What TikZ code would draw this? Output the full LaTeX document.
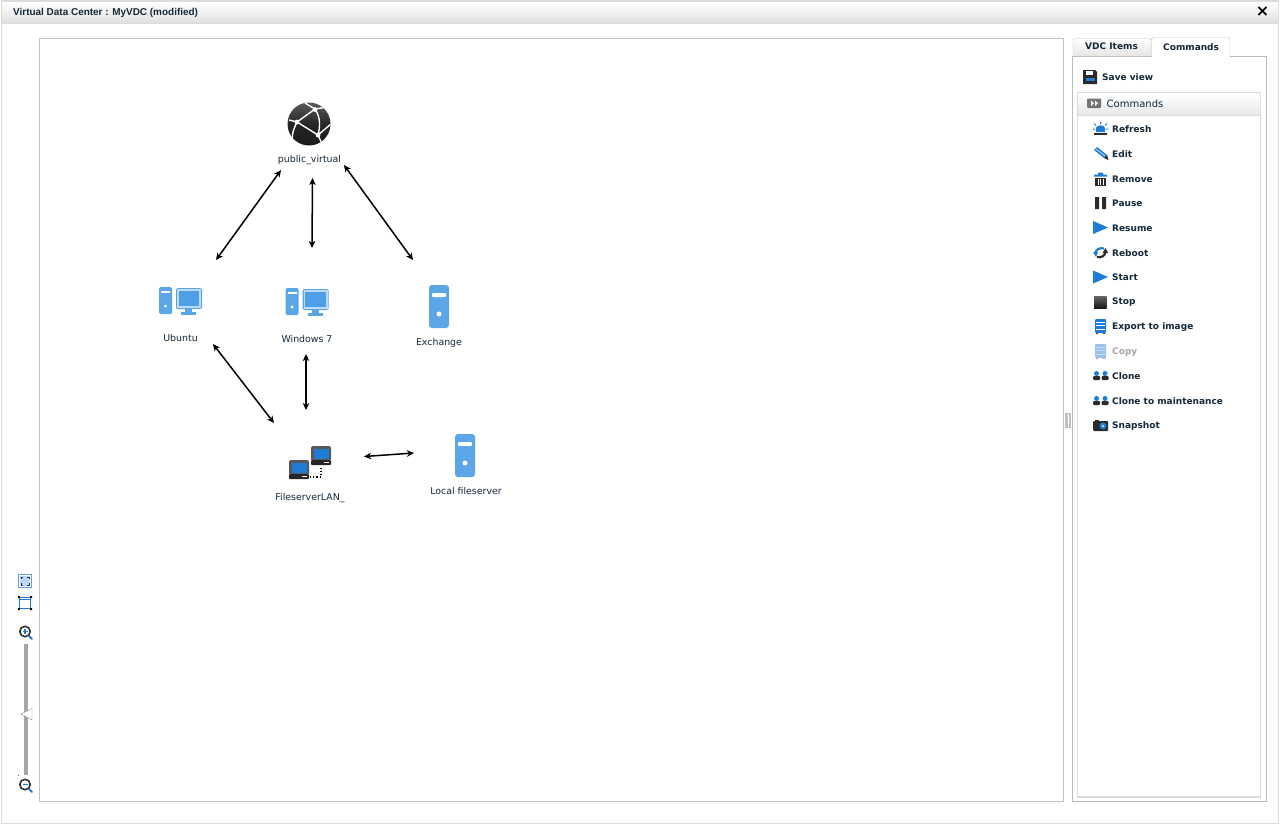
\documentclass[tikz,border=0pt]{standalone}
\usepackage{fontspec}
\setmainfont{DejaVu Sans}
\newfontfamily\titlefont{Liberation Sans}
\usetikzlibrary{arrows.meta,calc}
\definecolor{ink}{HTML}{14283A}
\definecolor{iconblue}{HTML}{5BA6E6}
\definecolor{screenblue}{HTML}{4F9EE8}
\definecolor{hardblue}{HTML}{1E7BD6}
\definecolor{framegray}{HTML}{BFC4C4}
\definecolor{panelgray}{HTML}{B4BEBC}
\definecolor{lightline}{HTML}{D8DCDC}
\definecolor{darkicon}{HTML}{2B2B2B}
\tikzset{
  x=1pt,y=-1pt,
  hub/.style={inner sep=0pt,outer sep=0pt,minimum width=#1},
  netlabel/.style={font=\fontsize{9.4}{11}\selectfont,text=ink,inner sep=0pt,anchor=center},
  cmdlabel/.style={font=\fontsize{9}{11}\selectfont\bfseries,text=ink,inner sep=0pt,anchor=west},
  link/.style={draw=black,line width=1.5pt,{Stealth[length=7pt,width=6.5pt,inset=2pt]}-{Stealth[length=7pt,width=6.5pt,inset=2pt]}},
  pics/pcicon/.style={code={
    \fill[iconblue,rounded corners=1.5pt] (0,0) rectangle (13,27);
    \fill[white] (2,4) rectangle (11,6);
    \fill[white] (6.5,19) circle (1.5);
    \fill[iconblue,rounded corners=1.5pt] (17,1) rectangle (43,22);
    \fill[white!60!iconblue] (18.2,2.2) rectangle (41.8,20.8);
    \fill[screenblue] (19.7,3.7) rectangle (40.3,19.3);
    \fill[iconblue] (26,22) rectangle (33,25);
    \fill[iconblue] (22,25) rectangle (37,28);
  }},
  pics/servericon/.style={code={
    \fill[iconblue,rounded corners=3pt] (0,0) rectangle (20,43);
    \fill[white,rounded corners=1pt] (3,8) rectangle (17,12);
    \fill[white] (10,29) circle (2.5);
  }},
  pics/laptop/.style={code={
    \fill[gray!70!black,rounded corners=1.5pt] (0,0) rectangle (20,15);
    \fill[hardblue] (2.5,2.5) rectangle (17.5,12.5);
    \fill[black!85,rounded corners=1pt] (0,14) rectangle (20,19);
    \fill[white] (13,16) rectangle (18,17);
  }},
  pics/floppy/.style={code={
    \fill[darkicon] (0,0) -- (12,0) -- (14,2) -- (14,14) -- (0,14) -- cycle;
    \fill[white] (3,0.5) rectangle (10,5);
    \fill[hardblue] (2.5,7.5) rectangle (11.5,11);
  }},
  pics/play/.style={code={\fill[hardblue] (0,0) -- (15,6.5) -- (0,13) -- cycle;}},
  pics/rack/.style={code={
    \fill[hardblue,rounded corners=1pt] (0,0) rectangle (11,14);
    \foreach \yy in {3,6.5,10} \draw[white,line width=0.6pt] (1,\yy) -- (10,\yy);
    \fill[black!70] (1,14) rectangle (3,15) (8,14) rectangle (10,15);
  }},
  pics/people/.style={code={
    \foreach \xx in {0,8.5}{
      \fill[hardblue] (\xx+3.5,2.5) circle (2.5);
      \fill[darkicon,rounded corners=1pt] (\xx,5) rectangle (\xx+7,9);
    }
  }}
}
\begin{document}
\begin{tikzpicture}
\useasboundingbox (0,0) rectangle (1280,825);
\fill[white] (0,0) rectangle (1280,825);
% window
\draw[lightline,line width=1.2pt] (1.5,1) rectangle (1278.5,823.5);
\shade[top color=white,bottom color=black!12] (2,2) rectangle (1278,23);
\draw[lightline] (2,23.5) -- (1278,23.5);
\node[font=\titlefont\fontsize{9.95}{12}\selectfont\bfseries,text=ink,inner sep=0pt,anchor=west] (title) at (13,12.5) {Virtual Data Center : MyVDC (modified)};
\node[font=\fontsize{16}{16}\selectfont\bfseries,text=black,inner sep=0pt] (closex) at (1262.5,12) {\char"00D7};
% canvas
\draw[framegray,line width=1pt] (39.5,38.5) rectangle (1063,801);
% splitter
\fill[black!25] (1065,413) rectangle (1071,428);
\fill[white] (1067.5,414) rectangle (1068.5,427);
% right panel
\draw[panelgray,line width=1pt] (1072.5,56) rectangle (1266,801);
\shade[top color=white,bottom color=black!10,rounded corners=1.5pt] (1073,38.5) rectangle (1151,56);
\draw[framegray,rounded corners=1.5pt] (1073,56) |- (1151,38.5) -- (1151,56);
\fill[white] (1151.5,37.5) rectangle (1230,57);
\draw[framegray,rounded corners=1.5pt] (1151.5,56) |- (1230,37.5) -- (1230,56);
\node[cmdlabel] (tabitems) at (1085,46) {VDC Items};
\node[cmdlabel] (tabcmd) at (1163,47) {Commands};
\pic at (1083,70) {floppy};
\node[cmdlabel] (saveview) at (1102,77.5) {Save view};
\draw[lightline,line width=1.2pt] (1077.5,92.5) rectangle (1260.5,797);
\shade[top color=white,bottom color=black!9] (1078,93) rectangle (1260,115);
\draw[lightline] (1078,115.5) -- (1260,115.5);
\fill[black!55,rounded corners=1pt] (1087,98.5) rectangle (1101,108);
\fill[white] (1091,100.5) -- (1094,103.2) -- (1091,106) -- cycle (1095,100.5) -- (1098,103.2) -- (1095,106) -- cycle;
\node[font=\fontsize{10}{12}\selectfont,text=ink,inner sep=0pt,anchor=west] (cmdhead) at (1106.5,103.5) {Commands};
% commands
\node[cmdlabel] (c1) at (1112,129.5) {Refresh};
\node[cmdlabel] (c2) at (1112,154.5) {Edit};
\node[cmdlabel] (c3) at (1112,179) {Remove};
\node[cmdlabel] (c4) at (1112,203.5) {Pause};
\node[cmdlabel] (c5) at (1112,228.5) {Resume};
\node[cmdlabel] (c6) at (1112,253) {Reboot};
\node[cmdlabel] (c7) at (1112,277.5) {Start};
\node[cmdlabel] (c8) at (1112,302.5) {Stop};
\node[cmdlabel] (c9) at (1112,327.5) {Export to image};
\node[cmdlabel,text=black!35] (c10) at (1112,352) {Copy};
\node[cmdlabel] (c11) at (1112,376.5) {Clone};
\node[cmdlabel] (c12) at (1112,401) {Clone to maintenance};
\node[cmdlabel] (c13) at (1112,426) {Snapshot};
% refresh icon
\fill[hardblue] (1096,132) -- (1096,128) .. controls (1096,124.5) and (1105,124.5) .. (1105,128) -- (1105,132) -- cycle;
\fill[darkicon] (1094,132.5) rectangle (1107,135);
\draw[hardblue,line width=1pt] (1100.5,122) -- (1100.5,124) (1094,123.5) -- (1096,125.5) (1107,123.5) -- (1105,125.5) (1093,129) -- (1095,129) (1108,129) -- (1106,129);
% edit icon
\fill[hardblue] (1094,150) -- (1097,147) -- (1107,155) -- (1104,158) -- cycle;
\draw[white,line width=0.5pt] (1096,149) -- (1105,156);
\fill[darkicon] (1107,155) -- (1108.5,160) -- (1104,158) -- cycle;
% remove icon
\fill[hardblue] (1094,174.5) -- (1098,174.5) -- (1098,172.5) -- (1103,172.5) -- (1103,174.5) -- (1107,174.5) -- (1107,176.5) -- (1094,176.5) -- cycle;
\fill[darkicon] (1095,177.5) rectangle (1106,186);
\draw[white,line width=0.7pt] (1098,179) -- (1098,185) (1100.5,179) -- (1100.5,185) (1103,179) -- (1103,185);
% pause icon
\fill[darkicon] (1095,197) rectangle (1099,209) (1102,197) rectangle (1106,209);
% play icons
\pic at (1093,221) {play};
\pic at (1093,270.5) {play};
% reboot icon
\draw[hardblue,line width=2.2pt] (1095,254) .. controls (1095.5,249) and (1100,247.5) .. (1104,248.5);
\fill[hardblue] (1093,252) -- (1098,252) -- (1096,257) -- cycle;
\draw[darkicon,line width=2.2pt] (1105.5,252) .. controls (1105,256) and (1101,258) .. (1097,257);
\fill[darkicon] (1108,253) -- (1102.5,253) -- (1105.5,248) -- cycle;
% stop icon
\shade[top color=black!60,bottom color=black!90] (1094,296) rectangle (1106.5,308);
% racks
\pic at (1095,319) {rack};
\pic[opacity=0.45] at (1095,344) {rack};
% clones
\pic at (1093,371) {people};
\pic at (1093,396) {people};
% snapshot
\fill[darkicon,rounded corners=1pt] (1093,421) rectangle (1108,431);
\fill[darkicon] (1095,419.5) rectangle (1099,422);
\fill[hardblue] (1103,426) circle (3.5);
\fill[white!70!hardblue] (1103,426) circle (1.4);
% zoom tools
\fill[white!30!hardblue] (18,574) rectangle (32,588);
\fill[white] (19,575) rectangle (31,587);
\fill[white!70!hardblue] (20,576) rectangle (30,586);
\draw[black!80,line width=0.9pt] (21,579) -- (21,577) -- (23,577) (27,577) -- (29,577) -- (29,579) (29,583) -- (29,585) -- (27,585) (23,585) -- (21,585) -- (21,583);
\draw[hardblue,line width=1pt] (19.5,597.5) rectangle (30.5,608.5);
\draw[hardblue,line width=1.5pt] (19.5,599.5) -- (30.5,599.5);
\fill[black] (18,596) rectangle (20,598) (30,596) rectangle (32,598) (18,608) rectangle (20,610) (30,608) rectangle (32,610);
\draw[hardblue,line width=2pt,line cap=round] (29,636) -- (32,639);
\draw[black!80,line width=1.6pt,fill=white] (25,631.5) circle (5.2);
\draw[hardblue,line width=1.3pt] (22.5,631.5) -- (27.5,631.5) (25,629) -- (25,634);
\fill[black!35] (24,644) rectangle (27.5,775);
\fill[black!60] (18,775) rectangle (19,776);
\draw[black!45,fill=white,line join=round] (21,714) -- (32,708.5) -- (32,720) -- cycle;
\draw[hardblue,line width=2pt,line cap=round] (29,789) -- (32,792);
\draw[black!80,line width=1.6pt,fill=white] (25,784.5) circle (5.2);
\draw[hardblue,line width=1.3pt] (22.5,784.5) -- (27.5,784.5);
% public_virtual globe
\shade[top color=black!65,bottom color=black!90,middle color=black!85] (309,124) circle (21.5);
\begin{scope}
\clip (309,124) circle (21.5);
\draw[white,line width=1.4pt] (289,120) -- (297,122) -- (315,109) -- (305,103) (297,122) -- (318,135) -- (323,146) (315,109) .. controls (321,118) and (320,127) .. (318,135) (297,122) .. controls (293,130) and (291,137) .. (293,142) (318,135) -- (331,124) (315,109) -- (328,107);
\end{scope}
\fill[white] (297,122) circle (2.4) (315,109.5) circle (2.4) (318,135) circle (2.4);
% graph nodes
\node[hub=63pt,minimum height=70pt] (pub) at (312.5,135) {};
\node[hub=66pt,minimum height=84pt] (ubuntu) at (183,302) {};
\node[hub=50pt,minimum height=106pt] (win) at (306,301) {};
\node[hub=50pt,minimum height=70pt] (exch) at (438,295) {};
\node[hub=90pt,minimum height=87pt] (lan) at (319,466.5) {};
\node[hub=50pt,minimum height=60pt] (local) at (439,455) {};
\node[netlabel] (pubL) at (309.5,160) {public\_virtual};
\node[netlabel] (ubuntuL) at (180.5,337.5) {Ubuntu};
\node[netlabel] (winL) at (307,338.5) {Windows 7};
\node[netlabel] (exchL) at (439,342.5) {Exchange};
\node[netlabel] (lanL) at (310,498) {FileserverLAN\_};
\node[netlabel] (localL) at (466,491) {Local fileserver};
\pic at (159,287) {pcicon};
\pic at (285.7,288) {pcicon};
\pic at (429,285) {servericon};
\pic at (455,434) {servericon};
\pic at (311,446) {laptop};
\pic at (289,460) {laptop};
\draw[black,line width=1.2pt,dotted] (310,477) -- (321,477) -- (321,466);
% connectors
\draw[link] (pub.south west) -- (ubuntu.north east);
\draw[link] ([yshift=-8pt]pub.south) -- ([xshift=6pt]win.north);
\draw[link] ([yshift=5pt]pub.south east) -- (exch.north west);
\draw[link] ([xshift=-3pt]ubuntu.south east) -- (lan.north west);
\draw[link] (win.south) -- ([xshift=-13pt,yshift=13pt]lan.north);
\draw[link] ([yshift=10pt]lan.east) -- ([yshift=2pt]local.west);
\end{tikzpicture}
\end{document}
